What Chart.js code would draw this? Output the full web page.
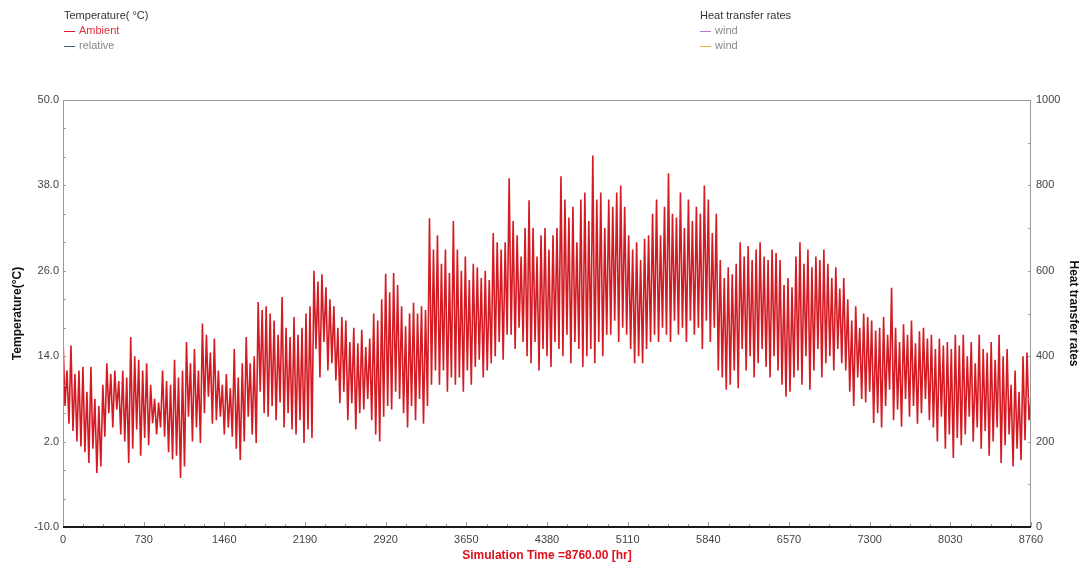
<!DOCTYPE html>
<html>
<head>
<meta charset="utf-8">
<script src="https://cdn.jsdelivr.net/npm/chart.js@4.4.1/dist/chart.umd.min.js"></script>
<style>
html, body { margin: 0; padding: 0; background: #fff; }
#wrap { position: relative; width: 1091px; height: 566px; }
#wrap canvas { position: absolute; left: 0; top: 0; }
.legend { position: absolute; top: 8px; font: 11px "Liberation Sans", Arial, sans-serif; color: #333; line-height: 15px; white-space: nowrap; }
.legend .item { color: #888; }
.legend .swatch { display: inline-block; width: 11px; height: 0; border-top: 1px solid; vertical-align: middle; margin-right: 4px; }
</style>
</head>
<body>
<div id="wrap">
  <canvas id="simChart" width="1091" height="566"></canvas>
  <div class="legend" id="legendTemp" style="left:64px"></div>
  <div class="legend" id="legendHeat" style="left:700px"></div>
</div>
<script>
// ambient temperature, alternating daily highs / lows
const ambientWinter = [16.5,7, 12,4.5, 15.5,3.5, 11.5,2, 12,1.3, 12.5,0.5, 9,-1, 12.5,1, 8,-2.4, 7,-1.5,
    10,2.7, 13,6, 11.5,4, 12,6.5, 10.5,3, 12,2, 11,-1,
    16.7,1, 14,3.7, 13.5,0, 12,2.5, 13,1.5,
    10,4.6, 8,3, 7.5,4, 12,2.7, 10.5,0.5, 10,-0.5,
    13.5,0, 11,-3.1, 12,-1.5,
    16,5.5, 13,2, 15,4, 12,1.8,
    18.6,6, 17,8.3, 14.5,4.5, 16.5,5];
const ambientSpring = [12,5.5, 10,3, 11.5,4, 9.5,2.7,
    15,1, 11,-0.6, 13,2,
    16.7,5.5, 13,3, 14,1.8,
    21.6,9, 20.5,6, 21,5.5, 20,7,
    19,5, 17,7.5, 22.3,4, 18,6, 16.7,3.7,
    19.5,3, 17,5, 18,1.8, 20,3.7, 21,2.5,
    26,15, 24.5,11, 25.5,16, 23.7,12, 22,13,
    21,10.6, 18,7.4, 19.5,9,
    19,5, 16,7.4, 18,3.7, 15.8,6,
    17.7,6.5, 15.3,8, 16.5,5,
    20,3, 19,2, 22,5.5];
const ambientEarlySummer = [25.6,7, 23,6.5, 25.7,9, 24,8,
    21,6, 18.2,4, 20,7,
    21.5,5, 20,8, 21,4.5, 20.5,7,
    33.4,10, 29,12,
    31,10, 27,12, 29,9, 25.7,11, 33,10,
    29,11, 26,9, 28,12, 24.7,10, 27,12.5,
    26.5,13.5, 25,11, 26,12, 24.7,13,
    31.3,14, 30,16, 29,13.5, 30,17,
    39,17, 33,15, 31,18, 28,16, 32,14];
const ambientLateSummer = [35.9,13, 32,16, 28,12, 31,15, 32,14, 29,12.5, 31,16, 32,15,
    39.3,14, 36,17, 33.5,13, 35,16, 30,15, 36,12.5,
    37,14, 33,15, 42.2,13,
    36,16, 37,14, 32,17,
    36,17, 35,19, 37,16, 38,18, 35,17,
    31,15, 29,13, 30,14, 27.5,13, 30.5,15, 31,16,
    34,17, 36,16, 31,18, 35,17, 39.7,16, 34,19, 33.5,17,
    37,18, 32,16, 36,19, 33,17, 35,18, 34,15, 38,19];
const ambientAutumn = [36,16, 31.3,18, 34,12,
    27.5,11, 25,9.3, 26.5,10, 25.5,12, 27,9.5,
    30,15, 28,12, 29.5,14, 27.5,11, 29,13, 30,15, 28,12.5, 27.5,11, 29,14, 28.5,12,
    27.5,10, 24,8.3, 25,9, 23.7,11,
    28,12, 30,10, 27,14, 29,9.3, 26.5,12, 28,15, 27.5,11, 29,13,
    27,14, 25,12, 26.5,15, 23.5,13, 25,12];
const ambientLateAutumn = [22,9, 19,7, 21,11, 18,8, 20,7.5, 19.5,9,
    19,4.6, 17.6,6, 18,4,
    19.5,7, 17,9.3, 23.6,5, 18,6.5, 16,4.1, 18.5,8, 17,5.5, 19,7, 15.8,4.5, 17.5,6, 18,8, 16.5,5,
    17,4, 15,2, 16.5,5.5, 15.5,1, 16,3, 15,-0.3, 17,2.5, 15.5,1.5,
    17,3, 14,5.5, 16,2, 13,4, 17,1, 15,3.5, 14.5,0, 16,2, 13.5,4, 17,-1, 14,1.5, 15,3,
    10,-1.5, 12,1, 9,-0.6, 14,2.2, 14.5,5, 8];

const simHours = 8760;
const timeTicks = [0, 730, 1460, 2190, 2920, 3650, 4380, 5110, 5840, 6570, 7300, 8030, 8760];
const tempTicks = [-10, 2, 14, 26, 38, 50];
const heatTicks = [0, 200, 400, 600, 800, 1000];

const ambient = [].concat(ambientWinter, ambientSpring, ambientEarlySummer,
    ambientLateSummer, ambientAutumn, ambientLateAutumn);
const step = simHours / (ambient.length - 1);
const ambientPoints = ambient.map((v, i) => ({ x: i * step, y: v }));

const tickFont = { family: '"Liberation Sans", Arial, sans-serif', size: 11 };
const titleFont = { family: '"Liberation Sans", Arial, sans-serif', size: 12, weight: 'bold' };

function fixedTicks(values) {
    return scale => { scale.ticks = values.map(v => ({ value: v })); };
}

// grey frame, black time axis and the small inward tick marks
const framePlugin = {
    id: 'frame',
    afterDraw(chart) {
        const { ctx, chartArea: a, scales } = chart;
        ctx.save();
        ctx.strokeStyle = '#9a9a9a';
        ctx.lineWidth = 1;
        ctx.beginPath();
        ctx.moveTo(a.left + 0.5, a.bottom);
        ctx.lineTo(a.left + 0.5, a.top + 0.5);
        ctx.lineTo(a.right - 0.5, a.top + 0.5);
        ctx.lineTo(a.right - 0.5, a.bottom);
        ctx.stroke();

        ctx.beginPath();
        for (let t = 0; t <= simHours; t += 182.5) {
            const px = Math.round(scales.x.getPixelForValue(t)) + 0.5;
            ctx.moveTo(px, a.bottom);
            ctx.lineTo(px, a.bottom - (t % 730 === 0 ? 5 : 3));
        }
        for (let v = -10; v <= 50; v += 4) {
            const py = Math.round(scales.yTemp.getPixelForValue(v)) + 0.5;
            ctx.moveTo(a.left, py);
            ctx.lineTo(a.left + 3, py);
        }
        for (let v = 0; v <= 1000; v += 100) {
            const py = Math.round(scales.yHeat.getPixelForValue(v)) + 0.5;
            ctx.moveTo(a.right, py);
            ctx.lineTo(a.right - 3, py);
        }
        ctx.stroke();

        ctx.strokeStyle = '#1a1a1a';
        ctx.lineWidth = 2;
        ctx.beginPath();
        ctx.moveTo(a.left, a.bottom);
        ctx.lineTo(a.right, a.bottom);
        ctx.stroke();
        ctx.restore();
    }
};

const chart = new Chart(document.getElementById('simChart'), {
    type: 'line',
    data: {
        datasets: [
            { label: 'Ambient', data: ambientPoints, borderColor: '#d41a22', borderWidth: 1.6, yAxisID: 'yTemp', legendColor: '#e0303a' },
            { label: 'relative', data: [], borderColor: '#3f5f80', borderWidth: 1, yAxisID: 'yTemp' },
            { label: 'wind', data: [], borderColor: '#b878d8', borderWidth: 1, yAxisID: 'yHeat' },
            { label: 'wind', data: [], borderColor: '#f0b030', borderWidth: 1, yAxisID: 'yHeat' }
        ]
    },
    options: {
        responsive: false,
        animation: false,
        parsing: false,
        normalized: true,
        elements: { point: { radius: 0 }, line: { tension: 0 } },
        layout: { padding: { top: 100, left: 0, right: 0, bottom: 0 } },
        plugins: { legend: { display: false }, tooltip: { enabled: false } },
        scales: {
            x: {
                type: 'linear',
                min: 0,
                max: simHours,
                afterBuildTicks: fixedTicks(timeTicks),
                afterFit: s => { s.height = 39; },
                grid: { display: false, drawTicks: false },
                border: { display: false },
                ticks: { font: tickFont, color: '#444', padding: 6, maxRotation: 0, autoSkip: false, callback: v => String(v) },
                title: { display: true, text: 'Simulation Time =8760.00 [hr]', color: '#e0101c', font: titleFont, padding: { top: 0, bottom: 3 } }
            },
            yTemp: {
                position: 'left',
                min: -10,
                max: 50,
                afterBuildTicks: fixedTicks(tempTicks),
                afterFit: s => { s.width = 63; },
                grid: { display: false, drawTicks: false },
                border: { display: false },
                ticks: { font: tickFont, color: '#444', padding: 4, callback: v => v.toFixed(1) },
                title: { display: true, text: 'Temperature(°C)', color: '#111', font: titleFont, padding: { top: 10, bottom: 0 } }
            },
            yHeat: {
                position: 'right',
                min: 0,
                max: 1000,
                afterBuildTicks: fixedTicks(heatTicks),
                afterFit: s => { s.width = 60; },
                grid: { display: false, drawTicks: false },
                border: { display: false },
                ticks: { font: tickFont, color: '#444', padding: 5, callback: v => String(v) },
                title: { display: true, text: 'Heat transfer rates', color: '#111', font: titleFont, padding: { top: 10, bottom: 0 } }
            }
        }
    },
    plugins: [framePlugin]
});

// legend groups, built from the datasets of each axis
function buildLegend(el, title, axisId) {
    let html = '<div>' + title + '</div>';
    chart.data.datasets.filter(d => d.yAxisID === axisId).forEach(d => {
        const textColor = d.legendColor || '#888';
        html += '<div class="item" style="color:' + textColor + '"><span class="swatch" style="border-color:' +
            d.borderColor + '"></span>' + d.label + '</div>';
    });
    el.innerHTML = html;
}
buildLegend(document.getElementById('legendTemp'), 'Temperature( °C)', 'yTemp');
buildLegend(document.getElementById('legendHeat'), 'Heat transfer rates', 'yHeat');
</script>
</body>
</html>
